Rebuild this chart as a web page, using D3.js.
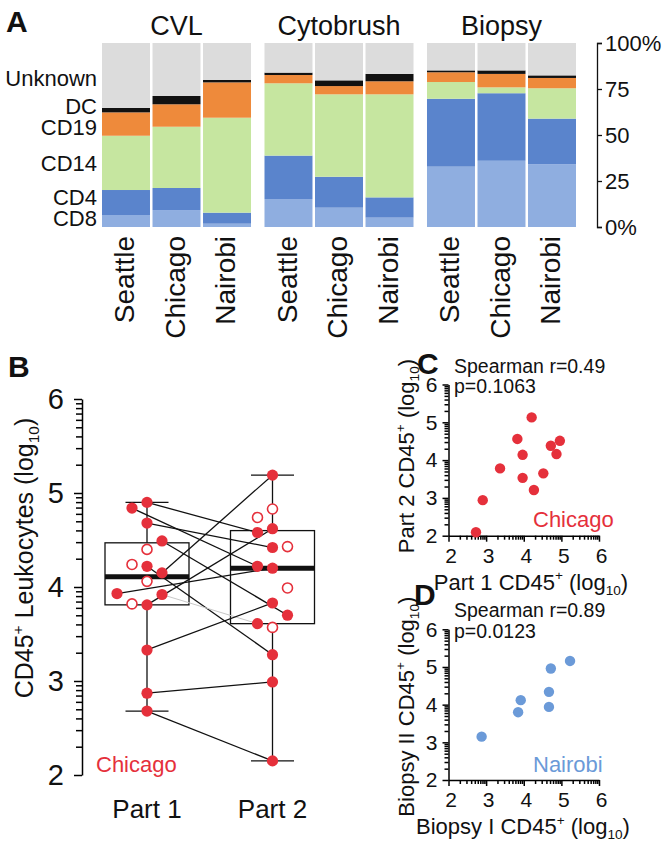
<!DOCTYPE html>
<html><head><meta charset="utf-8">
<script src="https://cdn.jsdelivr.net/npm/d3@7"></script>
<style>
html,body{margin:0;padding:0;background:#fff;}
svg text{font-family:"Liberation Sans",Arial,Helvetica,sans-serif;fill:#111;}
</style></head><body>
<svg id="fig" width="663" height="851"></svg>
<script>
// ================= DATA =================
// Panel A: cell composition (% of CD45+), bars ordered CVL(S,C,N), Cytobrush(S,C,N), Biopsy(S,C,N)
const sampleTypes = ["CVL", "Cytobrush", "Biopsy"];
const sites = ["Seattle", "Chicago", "Nairobi"];
const cellTypes = ["CD8", "CD4", "CD14", "CD19", "DC", "Unknown"];
const cd8Pct     = [6.5, 9.2, 1.8, 15.2, 10.5, 5.1, 32.8, 36.0, 34.1];
const cd4Pct     = [13.6, 12.0, 6.0, 23.6, 16.8, 11.0, 36.9, 36.7, 24.8];
const cd14Pct    = [29.5, 33.3, 51.6, 39.3, 44.8, 56.0, 9.1, 3.2, 16.5];
const cd19Pct    = [12.7, 12.2, 19.2, 4.5, 4.5, 7.1, 5.3, 7.3, 5.6];
const dcPct      = [2.4, 4.5, 1.3, 1.3, 3.1, 4.0, 1.0, 1.9, 1.4];
const unknownPct = [35.3, 28.8, 20.1, 16.1, 20.3, 16.8, 14.9, 14.9, 17.6];
const pctTicks = [0, 25, 50, 75, 100];

// Panel B: CD45+ leukocytes (log10), Chicago, Part 1 vs Part 2
const partLabels = ["Part 1", "Part 2"];
const pairedPart1 = [4.90, 4.84, 4.68, 4.49, 4.22, 4.15, 3.93, 3.92, 3.81, 3.33, 2.87, 2.68];
const pairedPart2 = [4.58, 4.22, 4.42, 3.70, 3.28, 5.19, 4.20, 3.61, 4.62, 3.83, 2.99, 2.15];
const pairedSlot1 = [0, -1, 0, 1, 0, 1, -2, 1, 0, 0, 0, 0];
const pairedSlot2 = [-1, -1, 0, 1, 0, 0, 0, -1, 0, 0, 0, 0];
const pairedFaint = [false, false, false, false, false, false, false, true, false, false, false, false];
const unpairedPart1 = [4.40, 4.24, 4.06, 3.82];
const unpairedSlot1 = [0, -1, 0, -1];
const unpairedPart2 = [4.83, 4.74, 4.43, 3.99, 3.57];
const unpairedSlot2 = [0, -1, 1, 1, 0];
const boxMin    = [2.68, 2.15];
const boxQ1     = [3.81, 3.61];
const boxMedian = [4.11, 4.20];
const boxQ3     = [4.47, 4.60];
const boxMax    = [4.90, 5.19];
const logDomain = [2, 6];

// Panel C: Chicago Part 1 vs Part 2
const chicagoPart1 = [4.21, 3.83, 4.72, 4.96, 3.97, 4.87, 3.37, 3.97, 4.52, 4.27, 2.91, 2.73];
const chicagoPart2 = [5.13, 4.56, 4.38, 4.51, 4.14, 4.16, 3.78, 3.53, 3.65, 3.21, 2.94, 2.09];
// Panel D: Nairobi Biopsy I vs Biopsy II
const nairobiBiopsy1 = [2.88, 3.85, 3.92, 4.67, 4.67, 4.72, 5.23];
const nairobiBiopsy2 = [3.15, 3.80, 4.12, 3.94, 4.34, 4.96, 5.16];

// ================= STYLE =================
const cellColors = {CD8:"#8faee0", CD4:"#5a84cc", CD14:"#c6e6a0", CD19:"#ee8a3b", DC:"#111111", Unknown:"#dcdcdc"};
const RED = "#e5303b", BLUE = "#6b9ad8";

const svg = d3.select("#fig");

function richText(sel, parts, size) {
  let shift = 0;
  parts.forEach(p => {
    const target = p.sup ? -0.42*size : p.sub ? 0.22*size : 0;
    sel.append("tspan").attr("font-size", (p.sup || p.sub) ? size*0.62 : size)
      .attr("dy", target - shift).text(p.t);
    shift = target;
  });
}
function panelLetter(t, x, y) {
  svg.append("text").attr("x", x).attr("y", y).attr("font-size", 30).attr("font-weight", "bold").text(t);
}

// ================= PANEL A =================
(function(){
  const g = svg.append("g");
  const yA = d3.scaleLinear().domain([0, 100]).range([227, 43]);
  const xGroup = d3.scaleBand().domain(sampleTypes).range([102, 576]).paddingInner(0.083);
  const xSite = d3.scaleBand().domain(sites).range([0, xGroup.bandwidth()]).paddingInner(0.05);
  const cols = {CD8:cd8Pct, CD4:cd4Pct, CD14:cd14Pct, CD19:cd19Pct, DC:dcPct, Unknown:unknownPct};
  const rows = [];
  sampleTypes.forEach((st, i) => sites.forEach((s, j) => {
    const r = {type: st, site: s};
    cellTypes.forEach(c => r[c] = cols[c][i*3 + j]);
    rows.push(r);
  }));
  const stack = d3.stack().keys(cellTypes)(rows);
  g.selectAll("g.layer").data(stack).join("g").attr("class", "layer").attr("fill", d => cellColors[d.key])
    .selectAll("rect").data(d => d).join("rect")
    .attr("x", d => xGroup(d.data.type) + xSite(d.data.site))
    .attr("width", xSite.bandwidth())
    .attr("y", d => yA(d[1]))
    .attr("height", d => yA(d[0]) - yA(d[1]));

  g.selectAll("text.title").data(sampleTypes).join("text").attr("class", "title")
    .attr("x", d => xGroup(d) + xGroup.bandwidth()/2).attr("y", 35)
    .attr("text-anchor", "middle").attr("font-size", 27).text(d => d);

  const first = stack.map(l => ({key: l.key, y: yA((l[0][0] + l[0][1]) / 2)}));
  const ord = first.slice().reverse();
  const GAP = 21;
  for (let it = 0; it < 30; it++) {
    for (let k = 1; k < ord.length; k++) {
      const gap = ord[k].y - ord[k-1].y;
      if (gap < GAP) { const d = (GAP - gap)/2; ord[k].y += d; ord[k-1].y -= d; }
    }
    ord[ord.length-1].y = Math.min(ord[ord.length-1].y, 218);
  }
  g.selectAll("text.cl").data(ord).join("text").attr("class", "cl")
    .attr("x", 97).attr("y", d => d.y + (d.key === "Unknown" ? 3 : 0)).attr("dy", "0.35em")
    .attr("text-anchor", "end").attr("font-size", 22).text(d => d.key);

  const ax = g.append("g").attr("transform", "translate(597,0)")
    .call(d3.axisRight(yA).tickValues(pctTicks).tickSize(5).tickSizeOuter(5).tickPadding(3)
      .tickFormat(d => (d === 0 || d === 100) ? d + "%" : d));
  ax.selectAll("text").attr("font-size", 22).attr("font-family", null);
  ax.selectAll("path,line").attr("stroke", "#111").attr("stroke-width", 1.3);

  rows.forEach(r => {
    const cx = xGroup(r.type) + xSite(r.site) + xSite.bandwidth()/2;
    g.append("text").attr("transform", `translate(${cx},236) rotate(-90)`)
      .attr("text-anchor", "end").attr("dy", "0.3em").attr("font-size", 28).text(r.site);
  });
})();
panelLetter("A", 6, 32);

// ================= LOG AXIS (d3 axis on a log scale) =================
function logAxis(g, linScale, orient, o) {
  const [d0, d1] = linScale.domain();
  const lg = d3.scaleLog().domain([10 ** d0, 10 ** d1]).range(linScale.range());
  const tv = lg.ticks();
  const isMajor = v => Math.abs(Math.log10(v) - Math.round(Math.log10(v))) < 1e-6;
  const left = orient === "left";
  const axis = (left ? d3.axisLeft(lg) : d3.axisBottom(lg))
    .tickValues(tv).tickSize(o.major).tickSizeOuter(0).tickPadding(o.pad)
    .tickFormat(v => isMajor(v) ? String(Math.round(Math.log10(v))) : "");
  g.attr("transform", left ? `translate(${o.at},0)` : `translate(0,${o.at})`).call(axis);
  g.select(".domain").attr("stroke", "#000").attr("stroke-width", 1.5);
  g.selectAll(".tick line").attr("stroke", "#000").attr("stroke-width", 1.5)
    .attr(left ? "x1" : "y1", 0)
    .attr(left ? "x2" : "y2", v => (isMajor(v) ? o.major : o.minor) * (left ? -1 : 1));
  g.selectAll(".tick text").attr("font-size", o.fs).attr("font-family", null)
    .attr("dx", left ? 0 : 2);
}

// ================= PANEL B =================
(function(){
  const g = svg.append("g");
  const yB = d3.scaleLinear().domain(logDomain).range([775, 399]);
  const xB = d3.scalePoint().domain(partLabels).range([147, 272.5]);
  const SLOT = 15, HALF = 42, CAP = 21.5;
  logAxis(g.append("g"), yB, "left", {at: 82, major: 8, minor: 6, pad: 10, fs: 29});

  partLabels.forEach((p, i) => {
    const cx = xB(p);
    const bg = g.append("g").attr("stroke", "#111").attr("fill", "none").attr("stroke-width", 1.3);
    bg.append("line").attr("x1", cx).attr("x2", cx).attr("y1", yB(boxMax[i])).attr("y2", yB(boxQ3[i]));
    bg.append("line").attr("x1", cx).attr("x2", cx).attr("y1", yB(boxQ1[i])).attr("y2", yB(boxMin[i]));
    bg.append("line").attr("x1", cx - CAP).attr("x2", cx + CAP).attr("y1", yB(boxMax[i])).attr("y2", yB(boxMax[i]));
    bg.append("line").attr("x1", cx - CAP).attr("x2", cx + CAP).attr("y1", yB(boxMin[i])).attr("y2", yB(boxMin[i]));
    bg.append("rect").attr("x", cx - HALF).attr("width", 2*HALF).attr("y", yB(boxQ3[i]))
      .attr("height", yB(boxQ1[i]) - yB(boxQ3[i]));
    bg.append("line").attr("x1", cx - HALF).attr("x2", cx + HALF).attr("y1", yB(boxMedian[i])).attr("y2", yB(boxMedian[i])).attr("stroke-width", 5);
  });

  const pairs = pairedPart1.map((v, i) => ({
    x1: xB("Part 1") + SLOT*pairedSlot1[i], y1: yB(v),
    x2: xB("Part 2") + SLOT*pairedSlot2[i], y2: yB(pairedPart2[i]), faint: pairedFaint[i]}));
  g.selectAll("line.pair").data(pairs).join("line").attr("class", "pair")
    .attr("x1", d => d.x1).attr("y1", d => d.y1).attr("x2", d => d.x2).attr("y2", d => d.y2)
    .attr("stroke", d => d.faint ? "#c8c8c8" : "#111").attr("stroke-width", d => d.faint ? 1 : 1.3);

  const filled = pairs.map(d => ({x: d.x1, y: d.y1})).concat(pairs.map(d => ({x: d.x2, y: d.y2})));
  const open = unpairedPart1.map((v, i) => ({x: xB("Part 1") + SLOT*unpairedSlot1[i], y: yB(v)}))
    .concat(unpairedPart2.map((v, i) => ({x: xB("Part 2") + SLOT*unpairedSlot2[i], y: yB(v)})));
  g.selectAll("circle.o").data(open).join("circle").attr("class", "o").attr("cx", d => d.x).attr("cy", d => d.y)
    .attr("r", 5).attr("fill", "#fff").attr("stroke", RED).attr("stroke-width", 1.6);
  g.selectAll("circle.f").data(filled).join("circle").attr("class", "f").attr("cx", d => d.x).attr("cy", d => d.y)
    .attr("r", 5.6).attr("fill", RED);

  g.selectAll("text.xl").data(partLabels).join("text").attr("class", "xl").attr("x", d => xB(d)).attr("y", 818)
    .attr("text-anchor", "middle").attr("font-size", 26).text(d => d);
  g.append("text").attr("x", 96).attr("y", 772).attr("font-size", 22).style("fill", RED).text("Chicago");
  const yl = g.append("text").attr("transform", "translate(33,558) rotate(-90)")
    .attr("text-anchor", "middle").attr("font-size", 25);
  richText(yl, [{t:"CD45"},{t:"+",sup:true},{t:" Leukocytes (log"},{t:"10",sub:true},{t:")"}], 25);
})();
panelLetter("B", 8, 377);

// ================= PANELS C & D =================
function scatter(o) {
  const g = svg.append("g");
  const x = d3.scaleLinear().domain(logDomain).range([448.5, 599]);
  const y = d3.scaleLinear().domain(logDomain).range(o.yRange);
  logAxis(g.append("g"), y, "left", {at: 448.5, major: 6, minor: 4, pad: 5, fs: 21});
  logAxis(g.append("g"), x, "bottom", {at: o.yRange[0], major: 6, minor: 4, pad: 6, fs: 21});
  g.selectAll("circle").data(o.xs).join("circle").attr("cx", d => x(d)).attr("cy", (d, i) => y(o.ys[i]))
    .attr("r", 5.2).attr("fill", o.color);
  g.append("text").attr("x", 454).attr("y", o.yRange[1] - 12).attr("font-size", 19.5).text(o.stat1);
  g.append("text").attr("x", 454).attr("y", o.yRange[1] + 8.5).attr("font-size", 19.5).text(o.stat2);
  g.append("text").attr("x", 533).attr("y", o.yRange[0] - 8.5).attr("font-size", 22).style("fill", o.color).text(o.site);
  const xl = g.append("text").attr("x", o.xlabX).attr("y", o.yRange[0] + 54).attr("text-anchor", "middle").attr("font-size", 22);
  richText(xl, [{t:o.xlab},{t:"+",sup:true},{t:" (log"},{t:"10",sub:true},{t:")"}], 22);
  const ylab = g.append("text").attr("transform", `translate(414,${(o.yRange[0]+o.yRange[1])/2 + o.ylabShift}) rotate(-90)`)
    .attr("text-anchor", "middle").attr("font-size", 22);
  richText(ylab, [{t:o.ylab},{t:"+",sup:true},{t:" (log"},{t:"10",sub:true},{t:")"}], 22);
}
scatter({xs: chicagoPart1, ys: chicagoPart2, color: RED, yRange: [535.7, 384.5],
  stat1: "Spearman r=0.49", stat2: "p=0.1063", site: "Chicago",
  xlab: "Part 1 CD45", ylab: "Part 2 CD45", xlabX: 531, ylabShift: -4});
scatter({xs: nairobiBiopsy1, ys: nairobiBiopsy2, color: BLUE, yRange: [780, 629.3],
  stat1: "Spearman r=0.89", stat2: "p=0.0123", site: "Nairobi",
  xlab: "Biopsy I CD45", ylab: "Biopsy II CD45", xlabX: 523, ylabShift: 2});
panelLetter("C", 417, 374);
panelLetter("D", 414, 605);
</script>
</body></html>
